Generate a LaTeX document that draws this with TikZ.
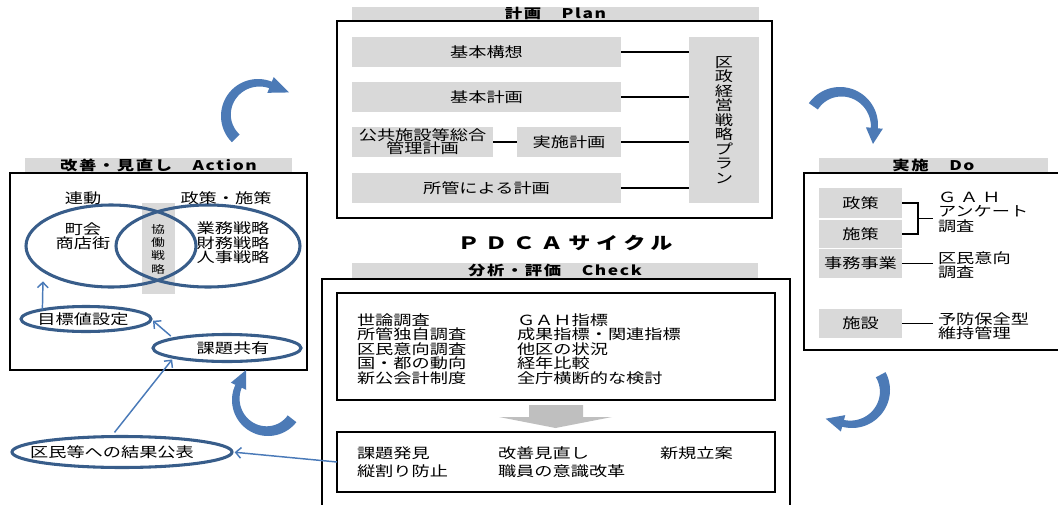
\documentclass[tikz,border=0pt]{standalone}
\usepackage{fontspec}
\newfontfamily\jp{Noto Sans CJK JP}[FakeStretch=1.3]
\newfontfamily\jpt{Noto Sans CJK JP}[FakeStretch=1.3,LetterSpace=12]
\newfontfamily\jpw{Noto Sans CJK JP}[FakeStretch=1.3,LetterSpace=33]
\usetikzlibrary{shapes.geometric,arrows.meta,calc}
\definecolor{gr}{RGB}{217,217,217}
\definecolor{agray}{RGB}{191,191,191}
\definecolor{ellc}{RGB}{56,93,138}
\definecolor{lb}{RGB}{74,122,184}
\definecolor{cycc}{RGB}{76,122,182}
\newcommand\rbox[7]{\node[#1, rectangle, minimum width={(#5-#3)*0.75pt}, minimum height={(#6-#4)*0.75pt}] (#2) at ({(#3+#5)/2},{(#4+#6)/2}) {#7};}
\newcommand\cycarrow[6]{%
 \fill[cycc] plot[domain=#4:#5,samples=40,variable=\t] ({#1+#3*cos(\t)},{#2+#3*sin(\t)})
 -- ({#1+(#3+5)*cos(#5)},{#2+(#3+5)*sin(#5)})
 -- ({#1+(#3-3.5)*cos(#5)+#6*cos(#5+90)},{#2+(#3-3.5)*sin(#5)+#6*sin(#5+90)})
 -- ({#1+(#3-12)*cos(#5)},{#2+(#3-12)*sin(#5)})
 -- plot[domain=#5:#4,samples=40,variable=\t] ({#1+(#3-7-4*(\t-(#5))/((#4)-(#5)))*cos(\t)},{#2+(#3-7-4*(\t-(#5))/((#4)-(#5)))*sin(\t)})
 -- cycle;}
\begin{document}
\begin{tikzpicture}[x=0.75pt,y=-0.75pt,
  every node/.style={inner sep=0pt, outer sep=0pt},
  txt/.style={font=\jp\fontsize{10.5pt}{10.9pt}\selectfont},
  gbox/.style={txt, fill=gr, draw=none},
  frame/.style={draw=black, line width=1.2pt, fill=none},
  tbar/.style={fill=gr, font=\jpt\bfseries\fontsize{10pt}{11pt}\selectfont},
  ell/.style={ellipse, draw=ellc, line width=2.3pt},
  conn/.style={draw=lb, line width=1.1pt, -{Straight Barb[length=4pt,width=8pt]}},
  link/.style={draw=black, line width=0.8pt}]
\useasboundingbox (0,0) rectangle (1058,504);

% ---------- Plan ----------
\rbox{tbar}{pbar}{352}{7}{759}{20}{計画　Plan}
\rbox{frame}{pframe}{337}{21}{772}{218}{}
\rbox{gbox}{kk}{352}{37}{621}{67}{基本構想}
\rbox{gbox}{kp}{352}{82}{621}{112}{基本計画}
\rbox{gbox,align=center}{kokyo}{352}{127}{493}{157}{公共施設等総合\\[-1pt]管理計画}
\rbox{gbox}{jisshi}{517}{127}{621}{157}{実施計画}
\rbox{gbox}{shokan}{352}{173}{621}{203}{所管による計画}
\rbox{gbox,align=center}{kusei}{689}{37}{759}{203}{区\\政\\経\\営\\戦\\略\\プ\\ラ\\ン}
\draw[link] (kk.east) -- (kk.east -| kusei.west);
\draw[link] (kp.east) -- (kp.east -| kusei.west);
\draw[link] (jisshi.east) -- (jisshi.east -| kusei.west);
\draw[link] (shokan.east) -- (shokan.east -| kusei.west);
\draw[link] (kokyo.east) -- (jisshi.west);

\node[font=\jpw\bfseries\fontsize{12.75pt}{14pt}\selectfont] (pdca) at (565,243) {ＰＤＣＡサイクル};

% ---------- Check ----------
\rbox{tbar}{cbar}{352}{263}{758}{278}{分析・評価　Check}
\rbox{frame}{cframe}{322}{279}{790}{515}{}
\rbox{frame}{chk1}{337}{293}{775}{400}{}
\node[txt, align=left, anchor=west] (c1) at (357,349) {世論調査\\所管独自調査\\区民意向調査\\国・都の動向\\新公会計制度};
\node[txt, align=left, anchor=west] (c2) at (517,349) {ＧＡＨ指標\\成果指標・関連指標\\他区の状況\\経年比較\\全庁横断的な検討};
\fill[agray] (529,405) -- (583,405) -- (583,417) -- (612,417) -- (555.5,428) -- (499,417) -- (529,417) -- cycle;
\rbox{frame}{chk2}{337}{432}{775}{492}{}
\node[txt, align=left, anchor=west] (c3) at (357,462) {課題発見\\[2.2pt]縦割り防止};
\node[txt, align=left, anchor=west] (c4) at (498,462) {改善見直し\\[2.2pt]職員の意識改革};
\node[txt, anchor=west] (c5) at (660,453) {新規立案};

% ---------- Action ----------
\rbox{tbar}{abar}{25}{158}{292}{173}{改善・見直し　Action}
\rbox{frame}{aframe}{10}{173}{307}{370}{}
\rbox{fill=gr}{kyodo}{142}{203}{175}{294}{}
\node[font=\jp\fontsize{8pt}{10pt}\selectfont, align=center] (kyodot) at (158,249) {協\\働\\戦\\略};
\node[ell, minimum width={170*0.75pt}, minimum height={82*0.75pt}] (renk) at (111,246) {};
\node[ell, minimum width={184*0.75pt}, minimum height={82*0.75pt}] (seik) at (208,246) {};
\node[txt] (rendo) at (83,198) {連動};
\node[txt] (seisakuT) at (226,198) {政策・施策};
\node[txt, align=center] (chokai) at (83,236) {町会\\商店街};
\node[txt, align=center] (gyomu) at (233,243) {業務戦略\\財務戦略\\人事戦略};
\node[ell, minimum width={130*0.75pt}, minimum height={25*0.75pt}] (mokuhyo) at (86,319) {};
\node[txt] (mokuhyoT) at (83,319) {目標値設定};
\node[ell, minimum width={148*0.75pt}, minimum height={27*0.75pt}] (kadai) at (227,348) {};
\node[txt] (kadaiT) at (233,348) {課題共有};
\node[ell, minimum width={220*0.75pt}, minimum height={31*0.75pt}] (kohyo) at (122,452) {};
\node[txt] (kohyoT) at (112,452) {区民等への結果公表};
\draw[conn, shorten >=8pt] (mokuhyo.168) -- (renk.200);
\draw[conn, shorten <=3pt, shorten >=2pt] (kadai.170) -- (mokuhyo.east);
\draw[conn, shorten <=4pt, shorten >=2pt] (kohyo.125) -- (kadai.190);
\draw[conn, shorten >=2pt] (chk2.west) -- (kohyo.east);

% ---------- Do ----------
\rbox{tbar}{dbar}{819}{158}{1048}{173}{実施　Do}
\rbox{frame}{dframe}{804}{173}{1075}{350}{}
\rbox{gbox}{seisaku}{819}{188}{902}{218}{政策}
\rbox{gbox}{shisaku}{819}{220}{902}{248}{施策}
\rbox{gbox}{jimu}{819}{249}{902}{278}{事務事業}
\rbox{gbox}{shisetsu}{819}{309}{902}{338}{施設}
\draw[link] (seisaku.east) -- ++(16,0) coordinate (bt) |- (shisaku.east);
\draw[link] ($(bt)!0.5!(bt |- shisaku.east)$) -- ++(15,0);
\node[txt, align=left, anchor=west] (gah) at (938,212) {Ｇ\hspace{3pt}Ａ\hspace{3pt}Ｈ\\アンケート\\調査};
\node[txt, align=left, anchor=west] (kumin) at (938,265) {区民意向\\調査};
\node[txt, align=left, anchor=west] (yobo) at (938,326) {予防保全型\\維持管理};
\draw[link, shorten >=4pt] (jimu.east) -- (jimu.east -| kumin.west);
\draw[link, shorten >=4pt] (shisetsu.east) -- (shisetsu.east -| yobo.west);

% ---------- cycle arrows ----------
\cycarrow{258}{116}{37}{135}{292}{20}
\cycarrow{840}{125}{38}{215}{365}{16}
\cycarrow{852}{390}{38}{-28}{105}{18}
\cycarrow{268}{400}{36}{38}{205}{18}
\end{tikzpicture}
\end{document}
